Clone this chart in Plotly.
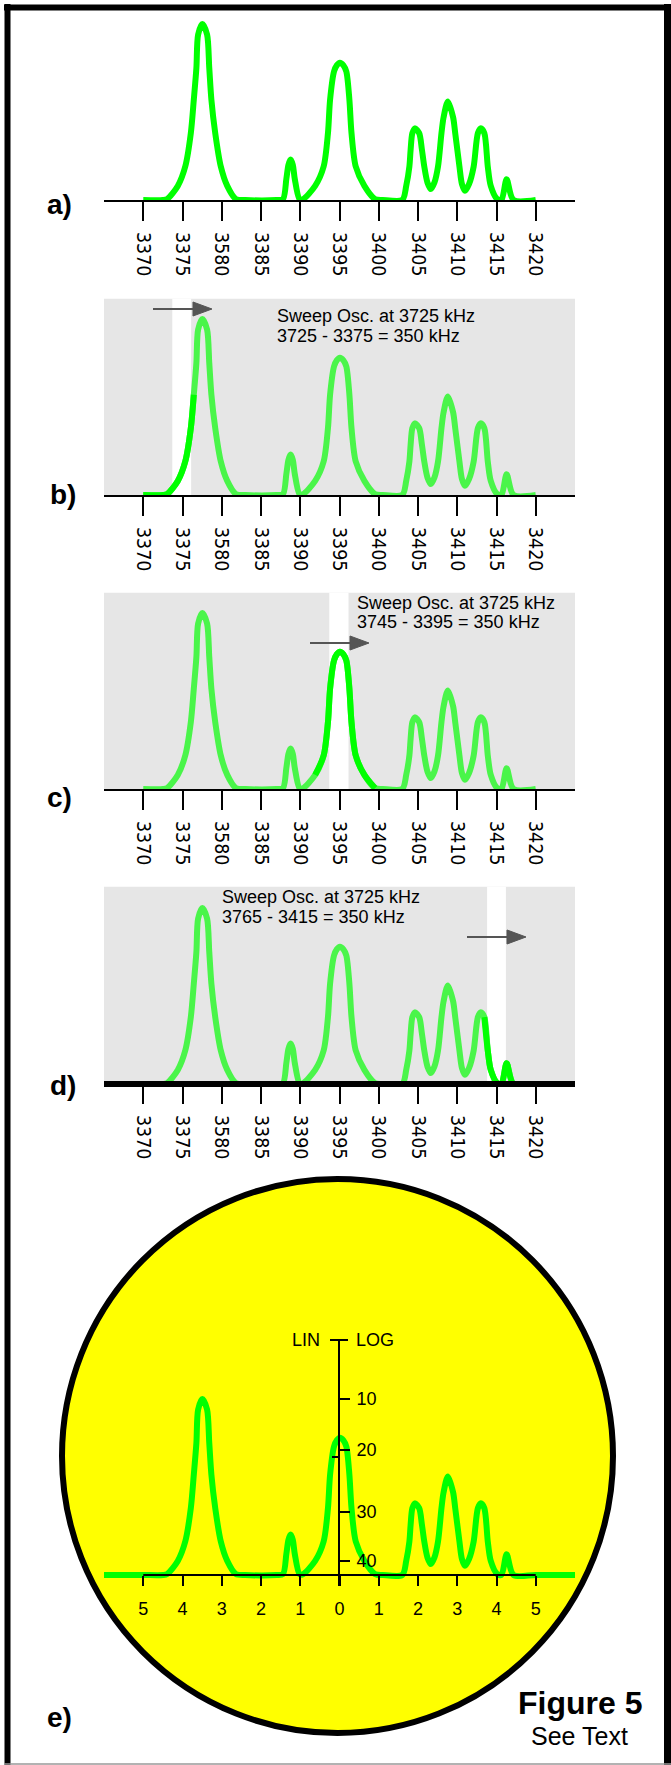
import plotly.graph_objects as go

# ---------------- data ----------------
freq_khz = [3370, 3372.5, 3373.06, 3374.4, 3375.35, 3376.06, 3376.44, 3376.77, 3376.99, 3377.53,
            3378.13, 3378.41, 3378.68, 3379.17, 3379.88, 3380.7, 3381.79, 3383.0,
            3387.0, 3387.8, 3388.23, 3388.5, 3388.77, 3389.05, 3389.3, 3389.9,
            3390.3, 3391.9, 3392.98, 3393.53, 3393.8, 3394.3, 3394.65, 3395.05, 3395.5, 3395.87,
            3396.26, 3396.53, 3397.07, 3398.17, 3399.53, 3400.5,
            3403.0, 3403.5, 3403.9, 3404.06, 3404.28, 3404.6, 3405.15, 3405.5, 3405.8, 3406.2,
            3406.63, 3407.1, 3407.55, 3407.99, 3408.26, 3408.8, 3409.47, 3409.74, 3410.28, 3410.6,
            3410.99, 3411.5, 3412.09, 3412.63, 3413.01, 3413.45, 3413.89, 3414.27, 3415.09,
            3415.63, 3416.29, 3417.16, 3420]
level_lin = [0, 0, 0.6, 8, 19, 38, 57, 75, 94, 100,
             94, 75, 57, 38, 19, 8, 0.6, 0,
             0, 0.5, 12, 20, 23, 20, 12, 0.5,
             0.3, 8, 19, 38, 57, 73, 76.5, 78, 76.5, 73,
             57, 38, 19, 8, 0.5, 0,
             0, 8, 19, 28.6, 38, 40.7, 38, 28.6, 19, 10,
             6.2, 10, 19, 38, 47, 56, 47, 38, 19, 9,
             5.2, 9, 19, 38, 40.7, 38, 19, 8, 0.5,
             0, 11.8, 0, 0]

tick_values_khz = [3370, 3375, 3380, 3385, 3390, 3395, 3400, 3405, 3410, 3415, 3420]
tick_labels_khz = ["3370", "3375", "3580", "3385", "3390", "3395", "3400", "3405", "3410", "3415", "3420"]
screen_tick_labels = ["5", "4", "3", "2", "1", "0", "1", "2", "3", "4", "5"]
log_tick_labels = ["10", "20", "30", "40"]
log_tick_lin = [100, 71, 35.8, 8.0]

sweep_line1 = ["Sweep Osc. at 3725 kHz", "Sweep Osc. at 3725 kHz", "Sweep Osc. at 3725 kHz"]
sweep_line2 = ["3725 - 3375 = 350 kHz", "3745 - 3395 = 350 kHz", "3765 - 3415 = 350 kHz"]
sweep_window_khz = [(3373.7, 3376.1), (3393.7, 3396.15), (3413.8, 3416.2)]
bright_range_khz = [(3365, 3376.5), (3391.5, 3399.6), (3413.4, 3425)]
axis_range_khz = [3365, 3425]
panel_labels = ["a)", "b)", "c)", "d)", "e)"]

# ---------------- geometry helpers ----------------
W, H = 671, 1765
FONT = "Liberation Sans, Arial, Helvetica, sans-serif"
NARROW = "Liberation Sans Narrow, Arial Narrow, DejaVu Sans Condensed, Liberation Sans, sans-serif"
BRIGHT = "#00ff00"
LIGHT = "#4af54a"
GRAY = "#e6e6e6"
ARROW = "#555555"
PXU = 1.76          # pixels per level unit
TOP_PX = 197.5      # height of shaded area


def X(p):
    return p / W


def Y(p):
    return 1 - p / H


fig = go.Figure()
layout = dict(width=W, height=H, margin=dict(l=0, r=0, t=0, b=0),
              paper_bgcolor="white", plot_bgcolor="rgba(0,0,0,0)",
              showlegend=False, hovermode=False)
shapes = []
annotations = []

axis_px = [201, 496, 790, 1084]
for i in range(4):
    n = "" if i == 0 else str(i + 1)
    ap = axis_px[i]
    if i == 3:
        bottom = ap - 3
        lw = 6
        yr0 = (ap - bottom) / PXU
    else:
        bottom = ap - 1
        lw = 2
        yr0 = 0
    top = ap - TOP_PX
    yr1 = yr0 + (bottom - top) / PXU
    layout["xaxis" + n] = dict(domain=[X(104), X(575)], range=axis_range_khz, anchor="y" + n,
                               showline=True, linecolor="black", linewidth=lw,
                               ticks="outside", ticklen=19 if i < 3 else 17, tickwidth=2, tickcolor="black",
                               tickmode="array", tickvals=tick_values_khz, ticktext=tick_labels_khz,
                               tickangle=90, ticklabelstandoff=7,
                               tickfont=dict(size=19.5, color="black", family=NARROW),
                               showgrid=False, zeroline=False, fixedrange=True)
    layout["yaxis" + n] = dict(domain=[Y(bottom), Y(top)], range=[yr0, yr1], anchor="x" + n,
                               visible=False, fixedrange=True)

    main_color = BRIGHT if i == 0 else LIGHT
    fig.add_trace(go.Scatter(x=freq_khz, y=level_lin, mode="lines", xaxis="x" + n, yaxis="y" + n,
                             line=dict(color=main_color, width=6, shape="spline", smoothing=0.8)))
    if i > 0:
        lo, hi = bright_range_khz[i - 1]
        sx = [f for f in freq_khz if lo <= f <= hi]
        sy = [v for f, v in zip(freq_khz, level_lin) if lo <= f <= hi]
        fig.add_trace(go.Scatter(x=sx, y=sy, mode="lines", xaxis="x" + n, yaxis="y" + n,
                                 line=dict(color=BRIGHT, width=6, shape="spline", smoothing=0.8)))
        # shaded area and white sweep window
        shapes.append(dict(type="rect", xref="x" + n, yref="y" + n, x0=axis_range_khz[0],
                           x1=axis_range_khz[1], y0=yr0, y1=yr1, fillcolor=GRAY, line_width=0,
                           layer="below"))
        w0, w1 = sweep_window_khz[i - 1]
        shapes.append(dict(type="rect", xref="x" + n, yref="y" + n, x0=w0, x1=w1, y0=yr0, y1=yr1,
                           fillcolor="white", line_width=0, layer="below"))

# panel label positions (px)
label_pos = [(59, 205), (63, 495), (59, 797), (63, 1085), (59, 1717)]
for lab, (lx, ly) in zip(panel_labels, label_pos):
    annotations.append(dict(text="<b>%s</b>" % lab, x=X(lx), y=Y(ly), xref="paper", yref="paper",
                            showarrow=False, xanchor="center", yanchor="middle",
                            font=dict(size=28, color="black", family=FONT)))

# sweep text
text_pos = [(275, 316, 336), (355, 603, 622), (220, 897, 917)]
for (tx, ty1, ty2), l1, l2 in zip(text_pos, sweep_line1, sweep_line2):
    for t, ty in ((l1, ty1), (l2, ty2)):
        annotations.append(dict(text=t, x=X(tx), y=Y(ty), xref="paper", yref="paper",
                                showarrow=False, xanchor="left", yanchor="middle",
                                font=dict(size=18, color="black", family=FONT)))

# arrows (px): shaft start, head start, tip, y
arrow_pos = [(153, 193, 212, 309), (310, 350, 369, 643), (467, 507, 526, 937)]
for x0, xh, xt, ay in arrow_pos:
    shapes.append(dict(type="line", xref="paper", yref="paper", x0=X(x0), x1=X(xh + 2),
                       y0=Y(ay), y1=Y(ay), line=dict(color=ARROW, width=2.2), layer="above"))
    shapes.append(dict(type="path", xref="paper", yref="paper",
                       path="M %f,%f L %f,%f L %f,%f Z" % (X(xh), Y(ay - 7), X(xt), Y(ay), X(xh), Y(ay + 7)),
                       fillcolor=ARROW, line=dict(color=ARROW, width=1), layer="above"))

# ---------------- panel e (screen) ----------------
E_AXIS = 1575
e_bottom = 1586
e_top = 1340
layout["xaxis5"] = dict(domain=[X(104), X(575)], range=axis_range_khz, anchor="free",
                        position=Y(E_AXIS), showline=False,
                        ticks="outside", ticklen=10, tickwidth=2, tickcolor="black",
                        tickmode="array", tickvals=tick_values_khz, ticktext=screen_tick_labels,
                        ticklabelstandoff=7,
                        tickfont=dict(size=18, color="black", family=FONT),
                        showgrid=False, zeroline=False, fixedrange=True)
layout["yaxis5"] = dict(domain=[Y(e_bottom), Y(e_top)],
                        range=[-(e_bottom - E_AXIS) / PXU, (E_AXIS - e_top) / PXU],
                        anchor="free", position=X(339), side="right",
                        showline=True, linecolor="black", linewidth=2,
                        ticks="outside", ticklen=10, tickwidth=2, tickcolor="black",
                        tickmode="array", tickvals=log_tick_lin, ticktext=log_tick_labels,
                        ticklabelstandoff=3,
                        tickfont=dict(size=18, color="black", family=FONT),
                        showgrid=False, zeroline=False, fixedrange=True)
ex = [axis_range_khz[0]] + freq_khz + [axis_range_khz[1]]
ey = [0] + level_lin + [0]
fig.add_trace(go.Scatter(x=ex, y=ey, mode="lines", xaxis="x5", yaxis="y5",
                         line=dict(color=BRIGHT, width=6, shape="spline", smoothing=0.8)))
shapes.append(dict(type="line", xref="x5", yref="y5", x0=tick_values_khz[0], x1=tick_values_khz[-1],
                   y0=0, y1=0, line=dict(color="black", width=2), layer="above"))
# LIN / LOG crossbar and left LIN tick
shapes.append(dict(type="line", xref="paper", yref="paper", x0=X(330), x1=X(348), y0=Y(e_top), y1=Y(e_top),
                   line=dict(color="black", width=2), layer="above"))
shapes.append(dict(type="line", xref="paper", yref="paper", x0=X(332), x1=X(339), y0=Y(1457), y1=Y(1457),
                   line=dict(color="black", width=2), layer="above"))
annotations.append(dict(text="LIN", x=X(322), y=Y(1340), xref="paper", yref="paper", showarrow=False,
                        xanchor="right", yanchor="middle", font=dict(size=18, color="black", family=FONT)))
annotations.append(dict(text="LOG", x=X(354), y=Y(1340), xref="paper", yref="paper", showarrow=False,
                        xanchor="left", yanchor="middle", font=dict(size=18, color="black", family=FONT)))

# yellow screen
shapes.append(dict(type="circle", xref="paper", yref="paper", x0=X(62), x1=X(613), y0=Y(1733), y1=Y(1179),
                   fillcolor="#ffff00", line=dict(color="black", width=6), layer="below"))

# figure caption
annotations.append(dict(text="<b>Figure 5</b>", x=X(580), y=Y(1703), xref="paper", yref="paper",
                        showarrow=False, xanchor="center", yanchor="middle",
                        font=dict(size=32, color="black", family=FONT)))
annotations.append(dict(text="See Text", x=X(579), y=Y(1736), xref="paper", yref="paper",
                        showarrow=False, xanchor="center", yanchor="middle",
                        font=dict(size=25, color="black", family=FONT)))

# frame
for (x0, y0, x1, y1, c, w) in [(7.5, 4, 7.5, 1765, "black", 6), (4, 7.5, 671, 7.5, "black", 6),
                               (667.5, 4, 667.5, 1765, "black", 7), (4, 1764, 671, 1764, "#999999", 1.5)]:
    shapes.append(dict(type="line", xref="paper", yref="paper", x0=X(x0), x1=X(x1), y0=Y(y0), y1=Y(y1),
                       line=dict(color=c, width=w), layer="above"))

layout["shapes"] = shapes
layout["annotations"] = annotations
fig.update_layout(**layout)
fig.write_html("out.html", config={"displayModeBar": False},
               post_script="document.body.style.margin='0px';document.body.style.overflow='hidden';")
